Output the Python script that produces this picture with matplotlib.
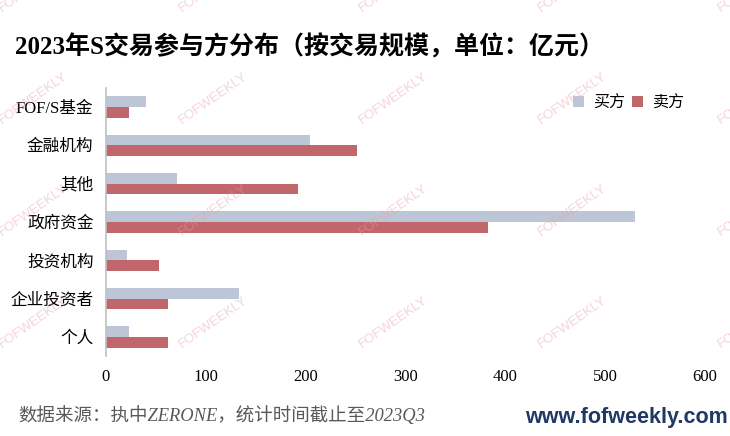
import numpy as np
import matplotlib.pyplot as plt

plt.rcParams['font.family'] = ['Liberation Serif', 'Noto Sans CJK SC']

# data
categories = ["FOF/S基金", "金融机构", "其他", "政府资金", "投资机构", "企业投资者", "个人"]
buy = [40, 204, 71, 530, 21, 133, 23]
sell = [23, 251, 192, 383, 53, 62, 62]
series_names = ["买方", "卖方"]
xticks = [0, 100, 200, 300, 400, 500, 600]

c_buy = "#BCC6D7"
c_sell = "#C1666B"

fig = plt.figure(figsize=(7.3, 4.36), dpi=100)
ax = fig.add_axes([0.1452, 0.183, 0.8206, 0.6156])

y = np.arange(len(categories))
h = 0.275
ax.barh(y - h / 2, buy, height=h, color=c_buy, label=series_names[0])
ax.barh(y + h / 2, sell, height=h, color=c_sell, label=series_names[1])

ax.set_ylim(-0.5, len(categories) - 0.5)
ax.invert_yaxis()
ax.set_xlim(0, 600)
ax.set_xticks(xticks)
ax.set_yticks(y)
ax.set_yticklabels(categories, fontsize=12)
ax.tick_params(axis='x', length=0, pad=9, labelsize=12)
ax.tick_params(axis='y', length=0, pad=9)
for s in ["top", "right", "bottom"]:
    ax.spines[s].set_visible(False)
ax.spines["left"].set_color("#BFBFBF")
ax.spines["left"].set_linewidth(1.2)

ax.legend(ncol=2, frameon=False, fontsize=11.5, loc="upper right",
          bbox_to_anchor=(0.99, 1.025), handlelength=0.7, handleheight=0.7,
          handletextpad=0.6, columnspacing=0.4)

# title and footer
fig.text(0.02, 0.892, "2023年S交易参与方分布（按交易规模，单位：亿元）",
         fontsize=18, fontweight="bold", va="center", ha="left")
fig.text(0.025, 0.048, "数据来源：执中ZERONE，统计时间截止至2023Q3",
         fontsize=13.3, style="italic", color="#595959", va="center", ha="left")
fig.text(0.997, 0.042, "www.fofweekly.com", fontsize=15.5, fontweight="bold",
         family="Liberation Sans", color="#1F3864", va="center", ha="right")

# watermarks
for wy in [-14, 98, 210, 322]:
    for wx in [33, 213, 393, 572, 752]:
        fig.text(wx / 730, 1 - wy / 436, "FOFWEEKLY", family="Liberation Sans",
                 fontsize=9.5, color="#E8A0A8", alpha=0.45, rotation=35,
                 ha="center", va="center", zorder=10)

fig.savefig("out.png", dpi=100)
